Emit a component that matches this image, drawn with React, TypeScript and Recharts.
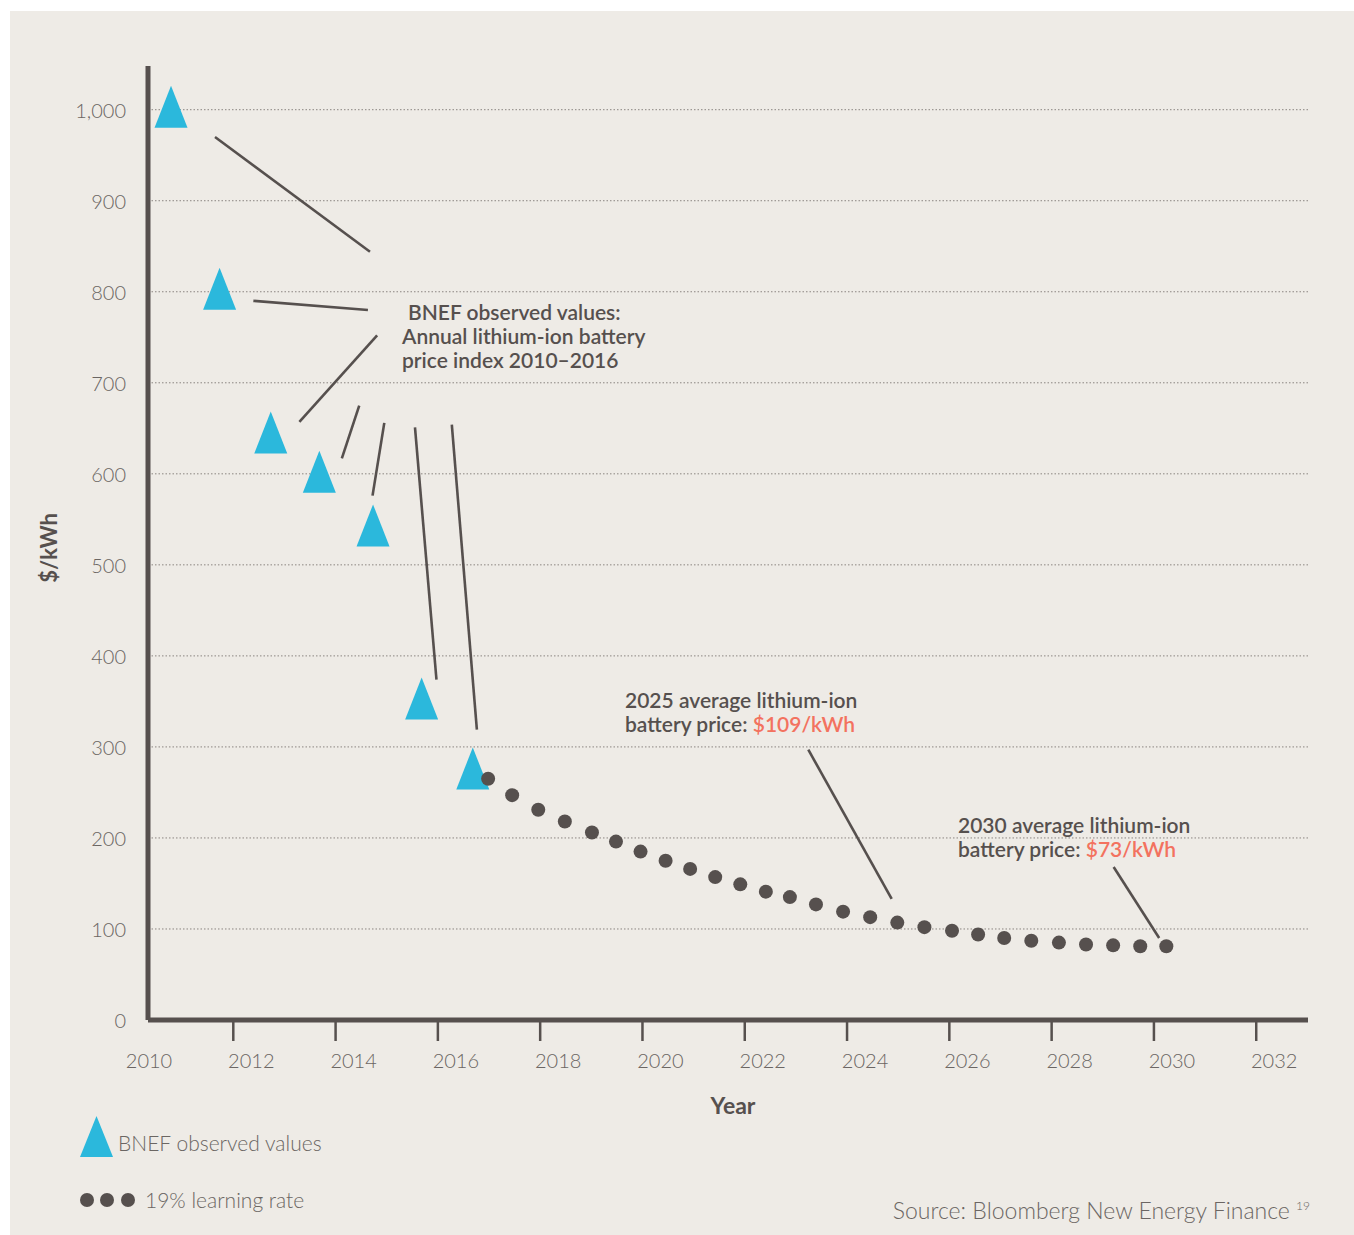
import React from 'react';
import {
  ComposedChart,
  Scatter,
  XAxis,
  YAxis,
  CartesianGrid,
  ReferenceLine
} from 'recharts';

// BNEF observed battery price index (years)
const observedYears = [2010.45, 2011.4, 2012.4, 2013.35, 2014.4, 2015.35, 2016.35];
const observedPrices = [1000, 800, 642, 599, 540, 350, 273];

// 19% learning rate projection, one dot every half year
const forecastYears = [
  2016.65, 2017.12, 2017.63, 2018.15, 2018.68, 2019.15, 2019.63, 2020.12, 2020.6,
  2021.09, 2021.58, 2022.08, 2022.55, 2023.06, 2023.59, 2024.12, 2024.65, 2025.18,
  2025.72, 2026.23, 2026.74, 2027.27, 2027.81, 2028.34, 2028.87, 2029.4, 2029.91
];
const forecastPrices = [
  265, 247, 231, 218, 206, 196, 185, 175, 166, 157, 149, 141, 135, 127, 119, 113,
  107, 102, 98, 94, 90, 87, 85, 83, 82, 81, 81
];

const xTicks = [2010, 2012, 2014, 2016, 2018, 2020, 2022, 2024, 2026, 2028, 2030, 2032];
const yTicks = [0, 100, 200, 300, 400, 500, 600, 700, 800, 900, 1000];

// leader lines of the notes: [year, price] -> [year, price]
const leaders = [
  [2011.31, 970, 2014.34, 844],
  [2012.06, 790, 2014.3, 780],
  [2014.48, 752, 2012.96, 657],
  [2014.13, 675, 2013.79, 617],
  [2014.62, 656, 2014.39, 576],
  [2015.22, 651, 2015.64, 374],
  [2015.94, 654, 2016.43, 319],
  [2022.91, 297, 2024.54, 133],
  [2028.88, 168, 2029.77, 90]
];

const INK = '#56504e';
const BLUE = '#2bb8dc';
const SALMON = '#f3725f';
const GRID = '#8b8581';
const TICK_TEXT = '#6b6663';
const PANEL = '#eeebe6';
const FONT = "Lato, 'Open Sans', sans-serif";

const observed = observedYears.map((year, i) => ({ year, price: observedPrices[i] }));
const forecast = forecastYears.map((year, i) => ({ year, price: forecastPrices[i] }));

const Triangle = ({ cx, cy }: any) => (
  <polygon
    points={`${cx},${cy - 24} ${cx + 16.5},${cy + 18} ${cx - 16.5},${cy + 18}`}
    fill={BLUE}
  />
);

const Dot = ({ cx, cy }: any) => <circle cx={cx} cy={cy} r={7} fill={INK} />;

const YearTick = ({ x, y, payload }: any) => (
  <g>
    {payload.value !== 2010 && (
      <line x1={x - 17} x2={x - 17} y1={y + 2} y2={y + 21} stroke={INK} strokeWidth={2.5} />
    )}
    <text
      x={x + 1}
      y={y + 41}
      dy="0.35em"
      textAnchor="middle"
      fill={TICK_TEXT}
      fontSize={20}
      fontWeight={300}
      fontFamily={FONT}
    >
      {payload.value}
    </text>
  </g>
);

const PriceTick = ({ x, y, payload }: any) => (
  <text
    x={x - 22}
    y={y + 1}
    dy="0.35em"
    textAnchor="end"
    fill={TICK_TEXT}
    fontSize={20}
    fontWeight={300}
    fontFamily={FONT}
  >
    {payload.value.toLocaleString('en-US')}
  </text>
);

const note: React.CSSProperties = {
  position: 'absolute',
  fontFamily: FONT,
  fontSize: 21,
  fontWeight: 600,
  lineHeight: '24px',
  color: INK,
  whiteSpace: 'nowrap'
};

const light: React.CSSProperties = {
  position: 'absolute',
  fontFamily: FONT,
  fontWeight: 300,
  color: TICK_TEXT,
  whiteSpace: 'nowrap'
};

export default function App() {
  return (
    <div style={{ position: 'absolute', left: 0, top: 0, width: 1354, height: 1235, background: '#fff' }}>
      <div style={{ position: 'absolute', left: 10, top: 11, width: 1344, height: 1224, background: PANEL }} />
      <div style={{ position: 'absolute', left: 0, top: 0 }}>
        <ComposedChart
          width={1354}
          height={1235}
          margin={{ top: 66, right: 46, bottom: 155, left: 0 }}
        >
          <CartesianGrid
            vertical={false}
            horizontalValues={yTicks}
            stroke={GRID}
            strokeDasharray="1.5 2"
          />
          <XAxis
            dataKey="year"
            type="number"
            domain={[2010, 2032.68]}
            ticks={xTicks}
            allowDataOverflow
            height={60}
            tickLine={false}
            tickSize={0}
            tickMargin={0}
            axisLine={{ stroke: INK, strokeWidth: 5 }}
            tick={<YearTick />}
          />
          <YAxis
            dataKey="price"
            type="number"
            domain={[0, 1048]}
            ticks={yTicks}
            allowDataOverflow
            width={148}
            tickLine={false}
            tickSize={0}
            tickMargin={0}
            axisLine={{ stroke: INK, strokeWidth: 5 }}
            tick={<PriceTick />}
          />
          {leaders.map((l, i) => (
            <ReferenceLine
              key={i}
              segment={[{ x: l[0], y: l[1] }, { x: l[2], y: l[3] }]}
              stroke={INK}
              strokeWidth={2.6}
              ifOverflow="visible"
            />
          ))}
          <Scatter
            name="BNEF observed values"
            data={observed}
            shape={<Triangle />}
            isAnimationActive={false}
          />
          <Scatter
            name="19% learning rate"
            data={forecast}
            shape={<Dot />}
            isAnimationActive={false}
          />
        </ComposedChart>
      </div>

      <div style={{ ...note, left: 402, top: 300 }}>
        <div style={{ paddingLeft: 6 }}>BNEF observed values:</div>
        <div>Annual lithium-ion battery</div>
        <div>price index 2010–2016</div>
      </div>
      <div style={{ ...note, left: 625, top: 688 }}>
        <div>2025 average lithium-ion</div>
        <div>
          battery price: <span style={{ color: SALMON }}>$109/kWh</span>
        </div>
      </div>
      <div style={{ ...note, left: 958, top: 813 }}>
        <div>2030 average lithium-ion</div>
        <div>
          battery price: <span style={{ color: SALMON }}>$73/kWh</span>
        </div>
      </div>

      <div
        style={{
          position: 'absolute',
          left: 48,
          top: 548,
          transform: 'translate(-50%, -50%) rotate(-90deg)',
          fontFamily: FONT,
          fontWeight: 700,
          fontSize: 22,
          color: INK,
          whiteSpace: 'nowrap'
        }}
      >
        $/kWh
      </div>
      <div
        style={{
          position: 'absolute',
          left: 733,
          top: 1105,
          transform: 'translate(-50%, -50%)',
          fontFamily: FONT,
          fontWeight: 700,
          fontSize: 23,
          color: INK
        }}
      >
        Year
      </div>

      <svg style={{ position: 'absolute', left: 80, top: 1116 }} width={34} height={42}>
        <polygon points="16.5,0 33,41 0,41" fill={BLUE} />
      </svg>
      <div style={{ ...light, left: 118, top: 1130, fontSize: 21, lineHeight: '26px' }}>
        BNEF observed values
      </div>
      <svg style={{ position: 'absolute', left: 78, top: 1191 }} width={60} height={18}>
        <circle cx={9} cy={9} r={7} fill={INK} />
        <circle cx={29} cy={9} r={7} fill={INK} />
        <circle cx={50} cy={9} r={7} fill={INK} />
      </svg>
      <div style={{ ...light, left: 145, top: 1187, fontSize: 21, lineHeight: '26px' }}>
        19% learning rate
      </div>

      <div style={{ ...light, right: 1354 - 1310, top: 1192, fontSize: 23, lineHeight: '28px' }}>
        Source: Bloomberg New Energy Finance <sup style={{ fontSize: 12, verticalAlign: 9 }}>19</sup>
      </div>
    </div>
  );
}
